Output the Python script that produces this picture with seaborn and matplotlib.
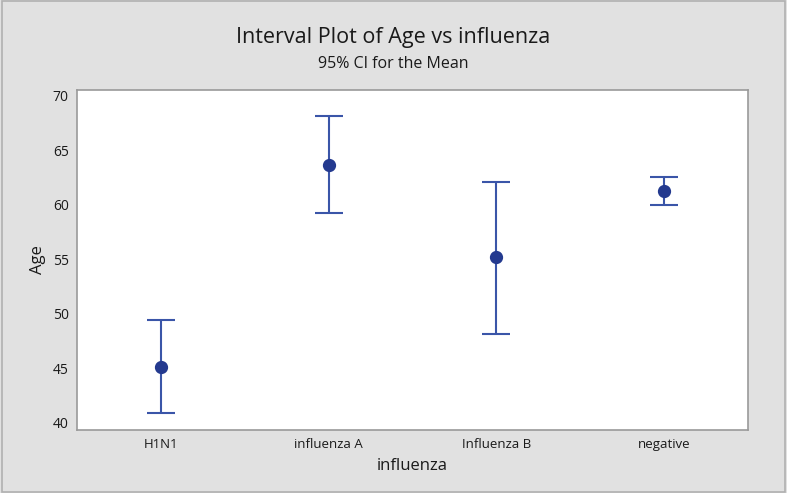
import matplotlib
matplotlib.use("Agg")
import matplotlib.pyplot as plt
import seaborn as sns
import pandas as pd
from matplotlib.patches import Rectangle

categories = ["H1N1", "influenza A", "Influenza B", "negative"]
means = [45.1, 63.7, 55.2, 61.3]
lower = [40.9, 59.3, 48.1, 60.0]
upper = [49.4, 68.2, 62.1, 62.6]
yticks = [40, 45, 50, 55, 60, 65, 70]

df = pd.DataFrame({"influenza": categories, "Age": means})

sns.set_style("white")
plt.rcParams['font.family'] = ['Open Sans', 'DejaVu Sans']

fig = plt.figure(figsize=(7.87, 4.93), dpi=100)
fig.patch.set_facecolor("#E1E1E1")
ax = fig.add_axes([77/787, 1-430/493, (748-77)/787, (430-90)/493])
ax.set_facecolor("white")

line_col = "#3A55A8"
mark_col = "#243A8F"

xs = list(range(len(categories)))
yerr = [[m - l for m, l in zip(means, lower)], [u - m for m, u in zip(means, upper)]]
ax.errorbar(xs, means, yerr=yerr, fmt="none", ecolor=line_col, elinewidth=1.5,
            capsize=10, capthick=1.5, zorder=2)
sns.pointplot(data=df, x="influenza", y="Age", linestyle="none", color=mark_col,
              marker="o", markersize=7.5, errorbar=None, ax=ax, zorder=3)

ax.set_xlim(-0.5, 3.5)
ax.set_ylim(39.33, 70.55)
ax.set_yticks(yticks)
ax.set_yticklabels([str(t) for t in yticks], fontsize=10, color="#1A1A1A")
ax.set_xticks(xs)
ax.set_xticklabels(categories, fontsize=9.5, color="#1A1A1A")
ax.tick_params(axis="both", direction="out", length=3, width=0.8, color="#777777", pad=3)
for s in ax.spines.values():
    s.set_color("#9A9A9A")
    s.set_linewidth(1.2)
ax.set_xlabel("influenza", fontsize=12, color="#1A1A1A", labelpad=5)
ax.set_ylabel("Age", fontsize=12, color="#1A1A1A", labelpad=5)

fig.text(0.5, 1-38/493, "Interval Plot of Age vs influenza", ha="center", va="center",
         fontsize=15.5, color="#1A1A1A")
fig.text(0.5, 1-64/493, "95% CI for the Mean", ha="center", va="center",
         fontsize=11.5, color="#1A1A1A")

fig.patches.append(Rectangle((0.002, 0.003), 0.996, 0.994, transform=fig.transFigure,
                             fill=False, edgecolor="#B0B0B0", linewidth=1.2))

fig.savefig("out.png", dpi=100, facecolor=fig.get_facecolor())
